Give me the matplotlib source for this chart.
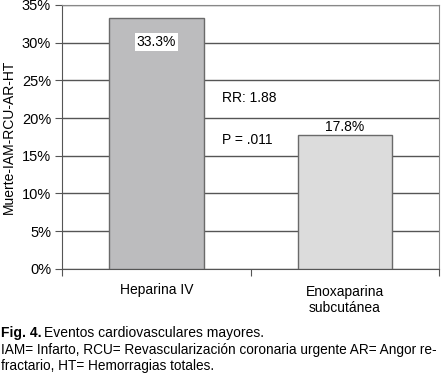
import matplotlib
matplotlib.use("Agg")
import matplotlib.pyplot as plt

plt.rcParams['font.family'] = ['Liberation Sans', 'DejaVu Sans']

groups = ["Heparina IV", "Enoxaparina\nsubcutánea"]
rates = [33.3, 17.8]
rate_labels = ["33.3%", "17.8%"]
bar_colors = ["#bcbcbe", "#dcdcdc"]
yticks = [0, 5, 10, 15, 20, 25, 30, 35]

fig = plt.figure(figsize=(4.44, 3.73), dpi=100)
ax = fig.add_axes([0.140, 0.279, 0.849, 0.708])

pos = [0.5, 1.5]
ax.bar(pos, rates, width=0.5, color=bar_colors, edgecolor="#6a6a6a", linewidth=1, zorder=3)

ax.set_xlim(0, 2)
ax.set_ylim(0, 35)
ax.set_yticks(yticks)
ax.set_yticklabels([f"{t}%" for t in yticks], fontsize=10.5)
ax.yaxis.grid(True, color="#555555", linewidth=1, zorder=0)
ax.set_xticks([0, 1, 2])
ax.set_xticklabels([])
ax.tick_params(axis="x", length=5, color="#555555")
ax.tick_params(axis="y", length=5, color="#555555", pad=3)
for side in ["left", "bottom"]:
    ax.spines[side].set_color("#555555")
for side in ["top", "right"]:
    ax.spines[side].set_color("#888888")

# category names below axis
ax.text(pos[0], -2.8, groups[0], ha="center", va="center", fontsize=10)
ax.text(pos[1], -4.1, groups[1], ha="center", va="center", fontsize=10,
        linespacing=1.15)

# value labels
ax.text(pos[0], rates[0] - 3.2, rate_labels[0], ha="center", va="center", fontsize=10,
        bbox=dict(facecolor="white", edgecolor="none", pad=1.5), zorder=5)
ax.text(pos[1], rates[1] + 1.0, rate_labels[1], ha="center", va="center", fontsize=10, zorder=5)

ax.text(0.85, 22.7, "RR: 1.88", ha="left", va="center", fontsize=10)
ax.text(0.85, 17.1, "P = .011", ha="left", va="center", fontsize=10)

ax.set_ylabel("Muerte-IAM-RCU-AR-HT", fontsize=10, labelpad=4)

fig.text(0.002, 1 - 333/373, "Fig. 4.", fontsize=10, fontweight="bold", va="center")
fig.text(0.099, 1 - 333/373, "Eventos cardiovasculares mayores.", fontsize=10, va="center")
fig.text(0.002, 1 - 350/373,
         "IAM= Infarto, RCU= Revascularización coronaria urgente AR= Angor re-",
         fontsize=9.8, va="center")
fig.text(0.002, 1 - 366/373, "fractario, HT= Hemorragias totales.", fontsize=9.8, va="center")

fig.savefig("out.png", dpi=100)
